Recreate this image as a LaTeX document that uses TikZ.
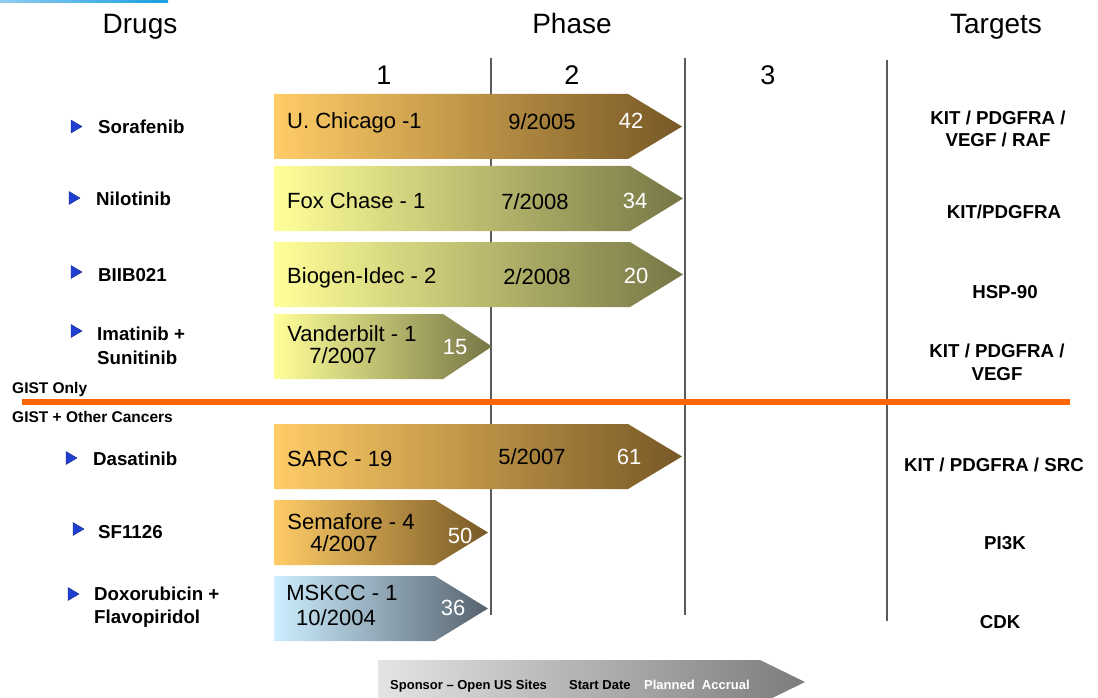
\documentclass[tikz,border=0pt]{standalone}
\usepackage{fontspec}
\setmainfont{Liberation Sans}
\definecolor{orgL}{HTML}{FFCC66}
\definecolor{orgR}{HTML}{775826}
\definecolor{yelL}{HTML}{FFFF99}
\definecolor{yelR}{HTML}{767646}
\definecolor{bluL}{HTML}{CCEEFF}
\definecolor{bluR}{HTML}{56626E}
\definecolor{legL}{HTML}{E4E4E4}
\definecolor{legR}{HTML}{7C7C7C}
\definecolor{bullet}{HTML}{1F3FD0}
\definecolor{gistline}{HTML}{FF6600}
\definecolor{vline}{HTML}{5A5A5A}
\definecolor{topL}{HTML}{90CCF0}
\definecolor{topR}{HTML}{18A0E0}
\begin{document}
\begin{tikzpicture}[x=1pt,y=-1pt,
  hdr/.style={font=\fontsize{28}{32}\selectfont, anchor=base, inner sep=0pt},
  phnum/.style={font=\fontsize{27}{30}\selectfont, anchor=base, inner sep=0pt},
  drug/.style={font=\bfseries\fontsize{18.7}{24}\selectfont, anchor=base west, inner sep=0pt},
  tgt/.style={font=\bfseries\fontsize{18.7}{22.5}\selectfont, anchor=base, inner sep=0pt},
  gist/.style={font=\bfseries\fontsize{15.5}{18}\selectfont, anchor=base west, inner sep=0pt},
  atxt/.style={font=\fontsize{22}{24}\selectfont, inner sep=0pt},
  acc/.style={atxt, text=white, anchor=base},
  legtxt/.style={font=\bfseries\fontsize{13}{15}\selectfont, anchor=base west, inner sep=0pt},
  phaseline/.style={draw=vline, line width=1.5pt},
  bul/.style={fill=bullet, draw=bullet!60!black, line width=0.4pt}
]
\useasboundingbox (0,0) rectangle (1098,698);
\clip (0,0) rectangle (1098,698);

% top bar
\shade[left color=topL, right color=topR] (0,0) rectangle (168,2.5);

% headers
\node[hdr] (hDrugs) at (140,34) {Drugs};
\node[hdr] (hPhase) at (572,34) {Phase};
\node[hdr] (hTargets) at (996,34) {Targets};
\node[phnum] (p1) at (384,85) {1};
\node[phnum] (p2) at (572,85) {2};
\node[phnum] (p3) at (768,85) {3};

% phase lines (behind the arrows)
\draw[phaseline] (491,58) -- (491,615);
\draw[phaseline] (685,58) -- (685,615);
\draw[phaseline] (887,60) -- (887,621);

% arrows (GIST only)
\shade[left color=orgL, right color=orgR] (274,94) -- (628,94) -- (682,126.5) -- (628,159) -- (274,159) -- cycle;
\shade[left color=yelL, right color=yelR] (274,166) -- (630,166) -- (683,198.5) -- (630,231) -- (274,231) -- cycle;
\shade[left color=yelL, right color=yelR] (274,242) -- (630,242) -- (683,274.5) -- (630,307) -- (274,307) -- cycle;
\shade[left color=yelL, right color=yelR] (274,314) -- (443,314) -- (492,346.5) -- (443,379) -- (274,379) -- cycle;
% arrows (GIST + other)
\shade[left color=orgL, right color=orgR] (274,424) -- (628,424) -- (682,456.5) -- (628,489) -- (274,489) -- cycle;
\shade[left color=orgL, right color=orgR] (274,500) -- (435,500) -- (488,532.5) -- (435,565) -- (274,565) -- cycle;
\shade[left color=bluL, right color=bluR] (274,576) -- (435,576) -- (488,608.5) -- (435,641) -- (274,641) -- cycle;

% orange divider
\draw[gistline, line width=6pt] (22,401.5) -- (1070,401.5);
\node[gist] (gOnly) at (12,393) {GIST Only};
\node[gist] (gOther) at (12,422) {GIST + Other Cancers};

% arrow texts
\node[atxt, anchor=base west] (s1) at (287,129) {U. Chicago -1};
\node[atxt, anchor=base] (d1) at (542,130) {9/2005};
\node[acc] (a1) at (631,129) {42};

\node[atxt, anchor=base west] (s2) at (287,208) {Fox Chase - 1};
\node[atxt, anchor=base] (d2) at (535,209) {7/2008};
\node[acc] (a2) at (635,208) {34};

\node[atxt, anchor=base west] (s3) at (287,283) {Biogen-Idec - 2};
\node[atxt, anchor=base] (d3) at (537,284) {2/2008};
\node[acc] (a3) at (636,283) {20};

\node[atxt, anchor=base] (s4) at (352,341) {Vanderbilt - 1};
\node[atxt, anchor=base] (d4) at (343,363) {7/2007};
\node[acc] (a4) at (455,354) {15};

\node[atxt, anchor=base west] (s5) at (287,466) {SARC - 19};
\node[atxt, anchor=base] (d5) at (532,464) {5/2007};
\node[acc] (a5) at (629,464) {61};

\node[atxt, anchor=base] (s6) at (351,529) {Semafore - 4};
\node[atxt, anchor=base] (d6) at (344,551) {4/2007};
\node[acc] (a6) at (460,543) {50};

\node[atxt, anchor=base] (s7) at (342,600) {MSKCC - 1};
\node[atxt, anchor=base] (d7) at (336,625) {10/2004};
\node[acc] (a7) at (453,615) {36};

% drug bullets and names
\fill[bul] (71,120) -- (82,126.5) -- (71,133) -- cycle;
\node[drug] (n1) at (98,134) {Sorafenib};
\fill[bul] (69,191.5) -- (80,198) -- (69,204.5) -- cycle;
\node[drug] (n2) at (96,205) {Nilotinib};
\fill[bul] (71,265.5) -- (82,272) -- (71,278.5) -- cycle;
\node[drug] (n3) at (98,281) {BIIB021};
\fill[bul] (71,324.5) -- (82,331) -- (71,337.5) -- cycle;
\node[drug] (n4a) at (97,340) {Imatinib +};
\node[drug] (n4b) at (97,364) {Sunitinib};
\fill[bul] (66,451.5) -- (77,458) -- (66,464.5) -- cycle;
\node[drug] (n5) at (93,465) {Dasatinib};
\fill[bul] (73,522.5) -- (84,529) -- (73,535.5) -- cycle;
\node[drug] (n6) at (98,538) {SF1126};
\fill[bul] (68,587.5) -- (79,594) -- (68,600.5) -- cycle;
\node[drug] (n7a) at (94,600) {Doxorubicin +};
\node[drug] (n7b) at (94,623) {Flavopiridol};

% targets
\node[tgt] (t1a) at (998,125) {KIT / PDGFRA /};
\node[tgt] (t1b) at (998,147) {VEGF / RAF};
\node[tgt] (t2) at (1004,218) {KIT/PDGFRA};
\node[tgt] (t3) at (1005,298) {HSP-90};
\node[tgt] (t4a) at (997,357) {KIT / PDGFRA /};
\node[tgt] (t4b) at (997,380) {VEGF};
\node[tgt] (t5) at (994,471) {KIT / PDGFRA / SRC};
\node[tgt] (t6) at (1005,549) {PI3K};
\node[tgt] (t7) at (1000,628) {CDK};

% legend
\shade[left color=legL, right color=legR] (378,660) -- (760,660) -- (805,682) -- (760,704) -- (378,704) -- cycle;
\node[legtxt] (l1) at (390,689) {Sponsor -- Open US Sites};
\node[legtxt] (l2) at (569,689) {Start Date};
\node[legtxt, text=white] (l3) at (644,689) {Planned\ \ Accrual};
\end{tikzpicture}
\end{document}
